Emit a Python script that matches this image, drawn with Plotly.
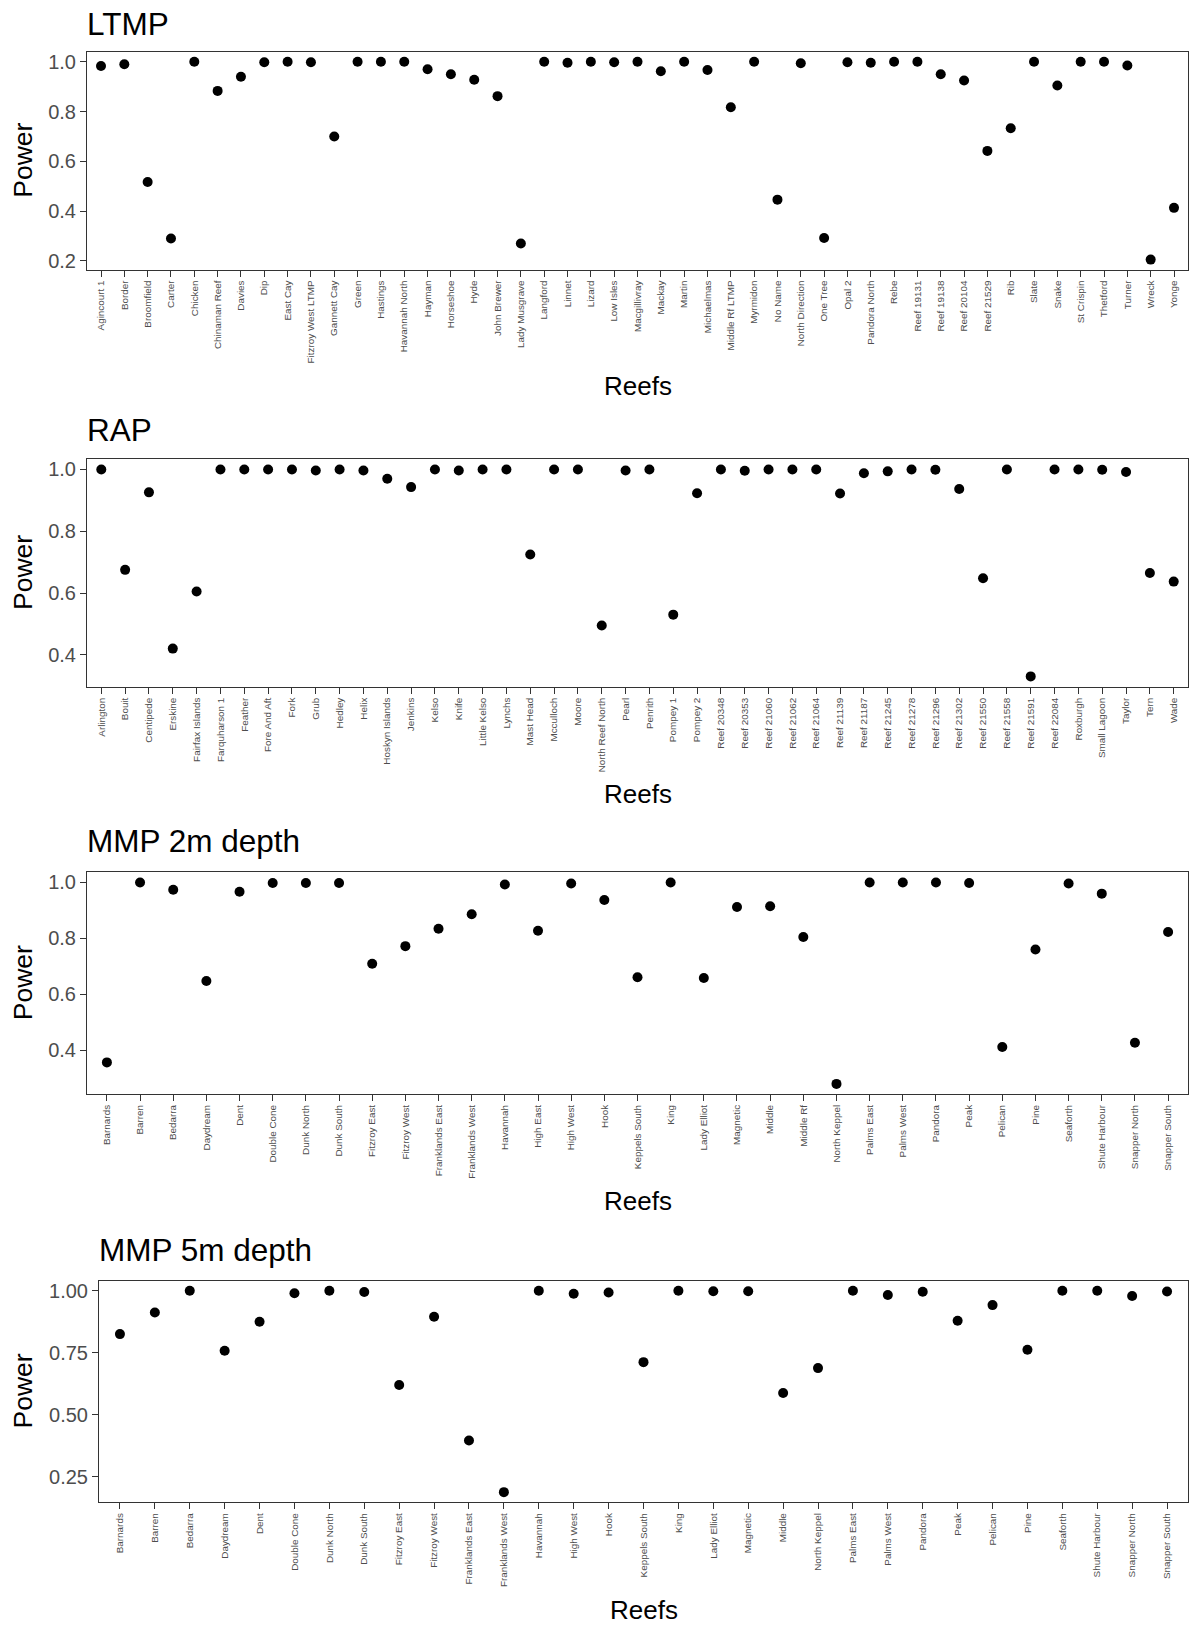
import plotly.graph_objects as go

# ---------------- DATA ----------------
ltmp_reefs = ["Agincourt 1", "Border", "Broomfield", "Carter", "Chicken", "Chinaman Reef", "Davies",
              "Dip", "East Cay", "Fitzroy West LTMP", "Gannett Cay", "Green", "Hastings",
              "Havannah North", "Hayman", "Horseshoe", "Hyde", "John Brewer", "Lady Musgrave",
              "Langford", "Linnet", "Lizard", "Low Isles", "Macgillivray", "Mackay", "Martin",
              "Michaelmas", "Middle Rf LTMP", "Myrmidon", "No Name", "North Direction", "One Tree",
              "Opal 2", "Pandora North", "Rebe", "Reef 19131", "Reef 19138", "Reef 20104",
              "Reef 21529", "Rib", "Slate", "Snake", "St Crispin", "Thetford", "Turner", "Wreck", "Yonge"]
ltmp_power = [0.983, 0.990, 0.517, 0.290, 1.000, 0.883, 0.940, 0.998, 1.000, 0.998, 0.700, 1.000, 1.000,
              1.000, 0.970, 0.950, 0.928, 0.862, 0.270, 1.000, 0.996, 1.000, 0.998, 1.000, 0.962, 1.000,
              0.967, 0.817, 1.000, 0.446, 0.994, 0.292, 0.998, 0.996, 1.000, 1.000, 0.950, 0.925,
              0.642, 0.733, 1.000, 0.905, 1.000, 1.000, 0.985, 0.205, 0.413]

rap_reefs = ["Arlington", "Bouit", "Centipede", "Erskine", "Fairfax Islands", "Farquharson 1", "Feather",
             "Fore And Aft", "Fork", "Grub", "Hedley", "Helix", "Hoskyn Islands", "Jenkins", "Kelso",
             "Knife", "Little Kelso", "Lynchs", "Mast Head", "Mcculloch", "Moore", "North Reef North",
             "Pearl", "Penrith", "Pompey 1", "Pompey 2", "Reef 20348", "Reef 20353", "Reef 21060",
             "Reef 21062", "Reef 21064", "Reef 21139", "Reef 21187", "Reef 21245", "Reef 21278",
             "Reef 21296", "Reef 21302", "Reef 21550", "Reef 21558", "Reef 21591", "Reef 22084",
             "Roxburgh", "Small Lagoon", "Taylor", "Tern", "Wade"]
rap_power = [1.000, 0.675, 0.926, 0.420, 0.605, 1.000, 1.000, 1.000, 1.000, 0.997, 1.000, 0.997, 0.970,
             0.943, 1.000, 0.997, 1.000, 1.000, 0.725, 1.000, 1.000, 0.495, 0.997, 1.000, 0.530, 0.923,
             1.000, 0.996, 1.000, 1.000, 1.000, 0.922, 0.988, 0.994, 1.000, 0.999, 0.937, 0.648,
             1.000, 0.330, 1.000, 1.000, 0.999, 0.992, 0.665, 0.637]

mmp2_reefs = ["Barnards", "Barren", "Bedarra", "Daydream", "Dent", "Double Cone", "Dunk North",
              "Dunk South", "Fitzroy East", "Fitzroy West", "Franklands East", "Franklands West",
              "Havannah", "High East", "High West", "Hook", "Keppels South", "King", "Lady Elliot",
              "Magnetic", "Middle", "Middle Rf", "North Keppel", "Palms East", "Palms West", "Pandora",
              "Peak", "Pelican", "Pine", "Seaforth", "Shute Harbour", "Snapper North", "Snapper South"]
mmp2_power = [0.356, 1.000, 0.974, 0.647, 0.967, 0.998, 0.998, 0.998, 0.709, 0.772, 0.834, 0.886,
              0.993, 0.827, 0.996, 0.937, 0.661, 1.000, 0.658, 0.912, 0.915, 0.805, 0.279, 1.000,
              1.000, 1.000, 0.998, 0.411, 0.760, 0.996, 0.960, 0.426, 0.823]

mmp5_reefs = ["Barnards", "Barren", "Bedarra", "Daydream", "Dent", "Double Cone", "Dunk North",
              "Dunk South", "Fitzroy East", "Fitzroy West", "Franklands East", "Franklands West",
              "Havannah", "High West", "Hook", "Keppels South", "King", "Lady Elliot", "Magnetic",
              "Middle", "North Keppel", "Palms East", "Palms West", "Pandora", "Peak", "Pelican",
              "Pine", "Seaforth", "Shute Harbour", "Snapper North", "Snapper South"]
mmp5_power = [0.825, 0.912, 1.000, 0.758, 0.875, 0.990, 1.000, 0.995, 0.620, 0.895, 0.396, 0.188,
              1.000, 0.988, 0.993, 0.712, 1.000, 0.998, 0.998, 0.588, 0.688, 1.000, 0.983, 0.996,
              0.879, 0.942, 0.762, 1.000, 1.000, 0.979, 0.997]

titles = ["LTMP", "RAP", "MMP 2m depth", "MMP 5m depth"]
y_ticks = [[0.2, 0.4, 0.6, 0.8, 1.0], [0.4, 0.6, 0.8, 1.0], [0.4, 0.6, 0.8, 1.0], [0.25, 0.50, 0.75, 1.00]]
y_fmt = [".1f", ".1f", ".1f", ".2f"]

# ---------------- LAYOUT ----------------
W, H = 1189, 1625
FONT = "Liberation Sans, Arial, sans-serif"

# panel boxes in pixels: (left, right, top, bottom), title y, x-title y
boxes = [
    (87, 1188, 51, 269, 23, 386),
    (87, 1188, 459, 687, 430, 794),
    (87, 1188, 873, 1095, 842, 1202),
    (99, 1188, 1282, 1504, 1251, 1612),
]

def px_x(x):
    return x / W

def px_y(y):
    return 1 - y / H

panels = [(ltmp_reefs, ltmp_power), (rap_reefs, rap_power),
          (mmp2_reefs, mmp2_power), (mmp5_reefs, mmp5_power)]

fig = go.Figure()
layout = dict(
    width=W, height=H,
    margin=dict(l=0, r=0, t=0, b=0),
    paper_bgcolor="white", plot_bgcolor="white",
    showlegend=False,
    font=dict(family=FONT, color="#000000"),
    annotations=[],
)

for i, ((reefs, power), box) in enumerate(zip(panels, boxes)):
    k = "" if i == 0 else str(i + 1)
    l, r, t, b, ty, xty = box
    fig.add_trace(go.Scatter(
        x=reefs, y=power, mode="markers",
        marker=dict(color="black", size=10),
        xaxis="x" + k, yaxis="y" + k,
        hoverinfo="x+y",
    ))
    n = len(reefs)
    ymin, ymax = min(power), max(power)
    pad = (ymax - ymin) * 0.05
    axis_common = dict(
        showline=True, linecolor="#333333", linewidth=1, mirror=True,
        ticks="outside", tickcolor="#333333", ticklen=6, tickwidth=1.3,
        showgrid=False, zeroline=False,
    )
    layout["xaxis" + k] = dict(
        axis_common,
        domain=[px_x(l), px_x(r)],
        anchor="y" + k,
        type="category",
        categoryorder="array", categoryarray=reefs,
        range=[-0.6, n - 0.4],
        tickangle=-90,
        tickfont=dict(family=FONT, size=9.9, color="#4D4D4D"),
    )
    layout["yaxis" + k] = dict(
        axis_common,
        domain=[px_y(b), px_y(t)],
        anchor="x" + k,
        range=[ymin - pad, ymax + pad],
        tickvals=y_ticks[i],
        tickformat=y_fmt[i],
        tickfont=dict(family=FONT, size=20, color="#4D4D4D"),
    )
    # panel title
    layout["annotations"].append(dict(
        text=titles[i], xref="paper", yref="paper",
        x=px_x(l - 2), y=px_y(ty), xanchor="left", yanchor="middle",
        showarrow=False, font=dict(family=FONT, size=31.5, color="black"),
    ))
    # y axis title
    layout["annotations"].append(dict(
        text="Power", xref="paper", yref="paper",
        x=px_x(23), y=px_y((t + b) / 2), xanchor="center", yanchor="middle",
        textangle=-90, showarrow=False, font=dict(family=FONT, size=26.5, color="black"),
    ))
    # x axis title
    layout["annotations"].append(dict(
        text="Reefs", xref="paper", yref="paper",
        x=px_x((l + r) / 2), y=px_y(xty), xanchor="center", yanchor="middle",
        showarrow=False, font=dict(family=FONT, size=26, color="black"),
    ))

fig.update_layout(**layout)
fig.write_html("out.html")
